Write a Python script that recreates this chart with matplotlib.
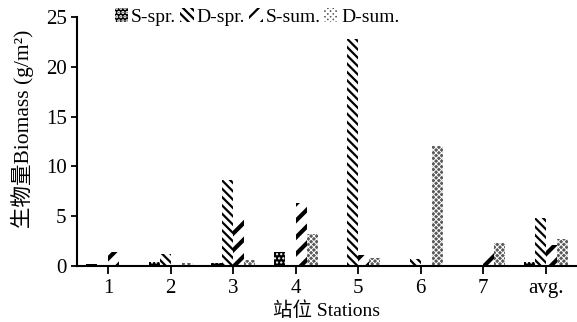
import numpy as np
import matplotlib.pyplot as plt

plt.rcParams['font.family'] = ['Liberation Serif', 'Noto Sans CJK SC']
plt.rcParams['hatch.linewidth'] = 1.6

# 站位
stations = ['1', '2', '3', '4', '5', '6', '7', 'avg.']
s_spr = [0.2, 0.4, 0.3, 1.4, 0.05, 0.0, 0.0, 0.35]
d_spr = [0.05, 1.2, 8.6, 0.0, 22.8, 0.7, 0.05, 4.8]
s_sum = [1.4, 0.1, 4.6, 6.3, 1.1, 0.1, 1.3, 2.1]
d_sum = [0.0, 0.3, 0.6, 3.2, 0.8, 12.0, 2.3, 2.7]

names = ['S-spr.', 'D-spr.', 'S-sum.', 'D-sum.']
series = [s_spr, d_spr, s_sum, d_sum]
# face, hatch colour, hatch pattern, hatch width
styles = [('black', 'white', '....', 1.0),
          ('white', 'black', '\\\\\\\\', 1.6),
          ('white', 'black', '//', 3.0),
          ('#5a5a5a', 'white', 'xxxxxx', 0.7)]

fig = plt.figure(figsize=(5.77, 3.22), dpi=100)
ax = fig.add_axes([0.1334, 0.174, 0.8666, 0.773])

x = np.arange(len(stations))
w = 0.175
for k, (vals, (fc, hc, h, hw)) in enumerate(zip(series, styles)):
    bars = ax.bar(x + (k - 1.5) * w, vals, w, facecolor=fc, edgecolor=hc,
                  hatch=h, linewidth=0, label=names[k])
    for b in bars:
        if hasattr(b, 'set_hatch_linewidth'):
            b.set_hatch_linewidth(hw)

ax.set_xlim(-0.5, 7.5)
ax.set_ylim(0, 25)
ax.set_yticks([0, 5, 10, 15, 20, 25])
ax.set_xticks(x)
ax.set_xticklabels(stations)
ax.tick_params(axis='both', labelsize=15, direction='out', length=4, width=1.3)
ax.tick_params(axis='x', length=6)
for s in ['top', 'right']:
    ax.spines[s].set_visible(False)
for s in ['left', 'bottom']:
    ax.spines[s].set_linewidth(1.5)

ax.set_ylabel('生物量Biomass (g/m²)', fontsize=15.5)
ax.yaxis.set_label_coords(-0.086, 0.55)
ax.set_xlabel('站位 Stations', fontsize=14, labelpad=2)

leg = ax.legend(loc='center', bbox_to_anchor=(0.36, 1.0), ncol=4, frameon=False,
                fontsize=14, handlelength=0.7, handleheight=0.7, handletextpad=0.15,
                columnspacing=0.2, borderaxespad=0)

plt.savefig('out.png')
